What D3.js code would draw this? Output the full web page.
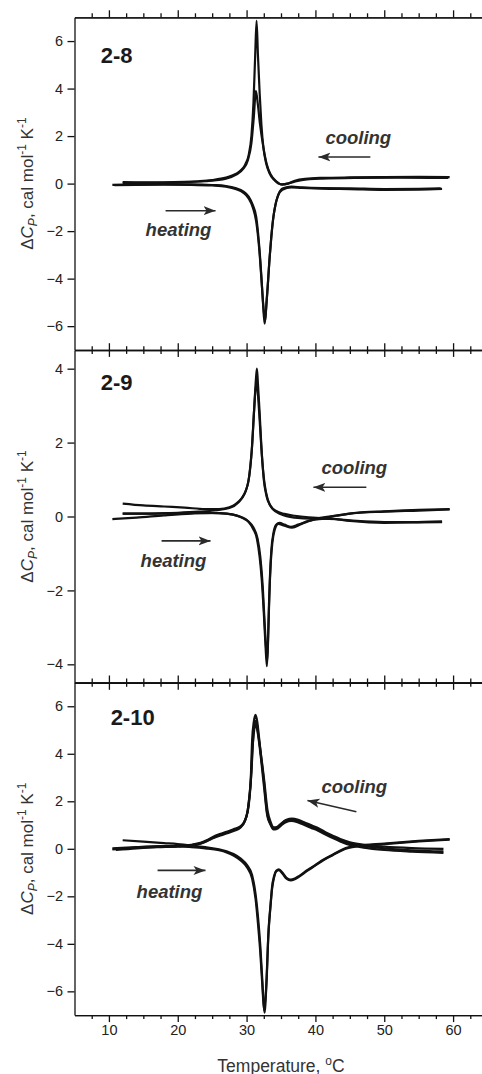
<!DOCTYPE html>
<html>
<head>
<meta charset="utf-8">
<script src="https://cdn.jsdelivr.net/npm/d3@7.9.0/dist/d3.min.js"></script>
<style>
  body { margin: 0; background: #fff; }
  svg { display: block; font-family: 'Liberation Sans', Arial, sans-serif; }
</style>
</head>
<body>
<div id="chart"></div>
<script>
const panelNames = ['2-8', '2-9', '2-10'];
const yDomains = [[-7, 7], [-4.5, 4.5], [-7, 7]];
const yTicks = [[-6, -4, -2, 0, 2, 4, 6], [-4, -2, 0, 2, 4], [-6, -4, -2, 0, 2, 4, 6]];
const xMajor = [10, 20, 30, 40, 50, 60];
const xMinor = [7.5, 12.5, 15, 17.5, 22.5, 25, 27.5, 32.5, 35, 37.5, 42.5, 45, 47.5, 52.5, 55, 57.5, 62.5];

// panel 2-8
const p1Cool1 = [[12.0,0.06],[15,0.05],[18,0.05],[21,0.07],[23,0.1],[25,0.15],[27,0.25],[28,0.35],[29,0.52],[29.8,0.8],[30.3,1.2],[30.7,2.0],[31.0,3.4],[31.25,5.4],[31.45,6.85],[31.65,5.4],[31.9,3.8],[32.15,2.5],[32.45,1.5],[32.85,0.85],[33.3,0.45],[34,0.16],[35,-0.03],[36,0.0],[37,0.12],[38.5,0.2],[41,0.24],[45,0.26],[50,0.27],[55,0.28],[59.5,0.27]];
const p1Cool2 = [[12,0.03],[16,0.03],[20,0.05],[24,0.1],[27,0.21],[28.5,0.38],[29.5,0.62],[30.2,1.0],[30.7,1.7],[31.05,2.8],[31.35,3.9],[31.65,3.3],[31.95,2.5],[32.4,1.6],[32.9,0.85],[33.5,0.38],[34.3,0.1],[35.2,-0.04],[36.5,0.04],[38,0.15],[41,0.21],[46,0.24],[52,0.25],[59.3,0.24]];
const p1Heat1 = [[10.5,-0.05],[14,-0.03],[18,-0.02],[22,-0.03],[25,-0.06],[27,-0.1],[28.5,-0.2],[29.5,-0.33],[30.3,-0.55],[30.9,-0.9],[31.4,-1.4],[31.8,-2.5],[32.15,-3.9],[32.4,-5.1],[32.62,-5.9],[32.85,-5.2],[33.05,-4.4],[33.3,-3.3],[33.55,-2.4],[33.85,-1.5],[34.15,-0.95],[34.55,-0.52],[35.2,-0.26],[36.5,-0.16],[38,-0.18],[41,-0.21],[45,-0.23],[50,-0.26],[55,-0.25],[58.4,-0.22]];
const p1Heat2 = [[10.8,-0.07],[14,-0.05],[18,-0.04],[22,-0.05],[25,-0.08],[27,-0.13],[28.5,-0.24],[29.5,-0.38],[30.3,-0.62],[30.9,-1.0],[31.4,-1.6],[31.85,-2.8],[32.2,-4.2],[32.45,-5.2],[32.68,-5.8],[32.9,-5.0],[33.1,-4.2],[33.35,-3.1],[33.6,-2.2],[33.9,-1.4],[34.25,-0.82],[34.65,-0.44],[35.3,-0.2],[36.5,-0.13],[38,-0.16],[41,-0.19],[45,-0.2],[50,-0.23],[55,-0.22],[58.2,-0.2]];

// panel 2-9
const p2Cool1 = [[12,0.35],[15,0.3],[18,0.27],[21,0.24],[24,0.2],[26,0.2],[27.5,0.25],[28.5,0.35],[29.3,0.5],[29.9,0.7],[30.4,1.1],[30.8,1.9],[31.1,2.9],[31.35,3.7],[31.5,4.0],[31.65,3.6],[31.9,2.8],[32.15,1.9],[32.5,1.0],[32.9,0.55],[33.5,0.28],[34.3,0.15],[35.5,0.07],[37,0.02],[39,-0.02],[41,-0.04],[43,0.02],[46,0.1],[50,0.14],[55,0.18],[59.5,0.2]];
const p2Cool2 = [[12,0.08],[16,0.08],[20,0.1],[23,0.13],[25.5,0.17],[27.5,0.23],[28.8,0.38],[29.7,0.62],[30.3,1.0],[30.75,1.8],[31.1,2.9],[31.4,3.6],[31.6,3.4],[31.9,2.6],[32.2,1.7],[32.6,0.9],[33.1,0.45],[33.8,0.2],[35,0.06],[37,-0.03],[39.5,-0.06],[42,0.0],[45,0.08],[50,0.13],[55,0.16],[59.5,0.19]];
const p2Heat1 = [[10.5,-0.07],[14,-0.03],[18,0.03],[22,0.08],[25,0.1],[27,0.08],[28.5,0.03],[29.5,-0.05],[30.3,-0.15],[31,-0.35],[31.5,-0.6],[31.9,-1.1],[32.2,-1.7],[32.5,-2.6],[32.75,-3.5],[32.95,-4.05],[33.1,-3.4],[33.25,-2.4],[33.4,-1.6],[33.6,-0.9],[33.9,-0.45],[34.3,-0.22],[34.8,-0.17],[35.5,-0.22],[36.4,-0.28],[37.5,-0.22],[39,-0.12],[41,-0.06],[43,-0.07],[46,-0.12],[50,-0.15],[54,-0.15],[58.4,-0.13]];
const p2Heat2 = [[12,0.08],[15,0.08],[19,0.09],[23,0.1],[26,0.09],[28,0.05],[29.3,-0.02],[30.2,-0.12],[31,-0.3],[31.6,-0.6],[32,-1.1],[32.35,-1.9],[32.6,-2.8],[32.85,-3.6],[33.0,-3.9],[33.15,-3.2],[33.3,-2.2],[33.5,-1.3],[33.75,-0.7],[34.1,-0.35],[34.6,-0.2],[35.5,-0.25],[36.6,-0.3],[38,-0.2],[40,-0.08],[42,-0.06],[45,-0.12],[50,-0.17],[55,-0.16],[58.4,-0.15]];

// panel 2-10
const p3Cool1 = [[10.5,-0.03],[14,0.05],[17,0.1],[20,0.12],[22,0.17],[23.3,0.25],[24.2,0.36],[25.1,0.5],[26.1,0.62],[27.1,0.72],[28.1,0.82],[29.1,0.94],[29.7,1.15],[30.1,1.5],[30.4,2.2],[30.6,2.9],[30.81,4.6],[31.05,5.35],[31.3,5.64],[31.55,5.35],[31.77,4.8],[32.1,3.9],[32.5,2.9],[32.99,1.5],[33.47,1.05],[33.9,0.87],[34.4,0.9],[35,1.04],[35.7,1.19],[36.5,1.23],[37.4,1.18],[38.4,1.05],[39.4,0.94],[40.4,0.82],[41.5,0.64],[42.5,0.5],[43.5,0.37],[45,0.22],[47,0.12],[50,0.02],[54,-0.06],[58.6,-0.11]];
const p3Cool2 = [[10.8,0.0],[14,0.04],[17,0.08],[20,0.11],[22,0.16],[23.3,0.23],[24.2,0.33],[25.1,0.46],[26.1,0.58],[27.1,0.68],[28.1,0.78],[29.1,0.9],[29.8,1.2],[30.15,1.6],[30.6,2.8],[30.85,4.2],[31.1,5.0],[31.3,5.25],[31.55,5.0],[31.85,4.4],[32.5,2.7],[33.0,1.4],[33.5,1.0],[33.9,0.82],[34.4,0.84],[35,0.98],[35.7,1.12],[36.5,1.17],[37.4,1.12],[38.4,1.0],[39.4,0.88],[40.4,0.76],[41.6,0.58],[42.6,0.44],[43.6,0.31],[45,0.16],[47,0.05],[50,-0.05],[54,-0.12],[58.6,-0.17]];
const p3Cool3 = [[11,-0.05],[14,0.02],[17,0.07],[20,0.1],[22,0.15],[23.3,0.22],[24.3,0.33],[25.2,0.45],[26.2,0.56],[27.2,0.66],[28.2,0.76],[29.1,0.9],[29.9,1.3],[30.3,1.8],[30.7,3.2],[30.95,4.6],[31.2,5.4],[31.45,5.3],[31.75,4.7],[32.55,2.9],[33.05,1.6],[33.5,1.12],[33.95,0.9],[34.5,0.93],[35.1,1.08],[35.8,1.22],[36.6,1.27],[37.5,1.22],[38.5,1.1],[39.5,0.98],[40.5,0.86],[41.6,0.68],[42.6,0.54],[43.6,0.41],[45,0.27],[47,0.17],[50,0.09],[54,0.03],[58.6,0.0]];
const p3Heat1 = [[12,0.36],[15,0.3],[18,0.24],[20,0.2],[22,0.14],[24,0.07],[26,-0.02],[27.1,-0.1],[28.1,-0.22],[29.1,-0.4],[30.1,-0.7],[30.8,-1.1],[31.3,-1.9],[31.7,-3.0],[32.0,-4.1],[32.3,-5.6],[32.6,-6.9],[32.9,-5.6],[33.2,-3.4],[33.5,-2.3],[33.7,-1.6],[34.0,-1.15],[34.3,-0.92],[34.7,-0.86],[35.2,-1.0],[35.8,-1.22],[36.4,-1.3],[37.0,-1.25],[37.6,-1.15],[38.8,-0.9],[40,-0.68],[41.2,-0.45],[42.5,-0.25],[44.4,0.03],[46,0.12],[50,0.22],[55,0.33],[59.5,0.41]];
const p3Heat2 = [[10.5,0.02],[14,0.07],[17,0.1],[20,0.1],[22,0.07],[24,0.02],[26,-0.06],[27.1,-0.15],[28.1,-0.28],[29.1,-0.48],[30.1,-0.8],[30.8,-1.25],[31.3,-2.1],[31.7,-3.3],[32.0,-4.4],[32.3,-5.8],[32.55,-6.8],[32.85,-5.8],[33.15,-3.7],[33.45,-2.5],[33.7,-1.7],[34.0,-1.2],[34.3,-0.96],[34.7,-0.9],[35.2,-1.04],[35.8,-1.26],[36.4,-1.33],[37.0,-1.28],[37.6,-1.18],[38.8,-0.93],[40,-0.7],[41.2,-0.47],[42.5,-0.27],[44.4,0.0],[46,0.1],[50,0.2],[55,0.31],[59.5,0.39]];

const panelSeries = [
    [p1Cool1, p1Cool2, p1Heat1, p1Heat2],
    [p2Cool1, p2Cool2, p2Heat1, p2Heat2],
    [p3Cool1, p3Cool2, p3Cool3, p3Heat1, p3Heat2],
];

// annotations, in data units (T, dCp)
const nameAt = [[8.8, 5.08], [8.8, 3.42], [10.25, 5.22]];
const coolAt = [[41.45, 1.67], [40.87, 1.15], [40.87, 2.36]];
const heatAt = [[15.33, -2.2], [14.6, -1.37], [14.02, -2.06]];
const coolArrow = [[[47.98, 1.12], [40.44, 1.12]], [[47.4, 0.79], [39.71, 0.79]], [[45.95, 1.56], [38.84, 2.03]]];
const heatArrow = [[[18.23, -1.14], [25.49, -1.14]], [[17.65, -0.66], [24.76, -0.66]], [[17.07, -0.91], [24.03, -0.91]]];

const width = 482, height = 1074;
const panelTop = [17.3, 350.2, 682.5];
const panelH = 332.6;
const ink = '#111';

const svg = d3.select('#chart').append('svg')
    .attr('width', width)
    .attr('height', height);

svg.append('defs').append('marker')
    .attr('id', 'head')
    .attr('markerUnits', 'userSpaceOnUse')
    .attr('markerWidth', 13).attr('markerHeight', 10)
    .attr('refX', 12).attr('refY', 5)
    .attr('orient', 'auto')
    .append('path')
    .attr('d', 'M0,0.5 L12,5 L0,9.5 L3,5 Z')
    .attr('fill', '#2a2a2a');

const x = d3.scaleLinear().domain([5, 65]).range([74.5, 487.5]);

function styleAxis(g) {
    g.selectAll('path, line').attr('stroke', ink).attr('stroke-width', 1.3);
    g.selectAll('text')
        .attr('fill', '#222')
        .attr('font-size', 14.5)
        .attr('font-family', "'Liberation Sans', Arial, sans-serif");
}

panelSeries.forEach((series, i) => {
    const top = panelTop[i], bottom = top + panelH;
    const y = d3.scaleLinear().domain(yDomains[i]).range([bottom, top]);
    const g = svg.append('g');

    g.append('clipPath').attr('id', 'clip' + i)
        .append('rect')
        .attr('x', x(5)).attr('y', top)
        .attr('width', width - x(5)).attr('height', panelH);

    const line = d3.line()
        .x(d => x(d[0]))
        .y(d => y(d[1]))
        .curve(d3.curveMonotoneX);

    g.append('g').attr('clip-path', `url(#clip${i})`)
        .selectAll('path')
        .data(series)
        .join('path')
        .attr('d', line)
        .attr('fill', 'none')
        .attr('stroke', ink)
        .attr('stroke-width', 2.2)
        .attr('stroke-linejoin', 'round');

    // top & bottom frame with major/minor ticks
    g.append('g').attr('transform', `translate(0,${top})`)
        .call(d3.axisTop(x).tickValues(xMajor).tickSize(7).tickSizeOuter(0).tickFormat(''))
        .call(styleAxis);
    g.append('g').attr('transform', `translate(0,${top})`)
        .call(d3.axisTop(x).tickValues(xMinor).tickSize(4).tickSizeOuter(0).tickFormat(''))
        .call(styleAxis);
    g.append('g').attr('transform', `translate(0,${bottom})`)
        .call(d3.axisBottom(x).tickValues(xMajor).tickSize(7).tickSizeOuter(0).tickPadding(3)
            .tickFormat(i === 2 ? d3.format('d') : ''))
        .call(styleAxis);
    g.append('g').attr('transform', `translate(0,${bottom})`)
        .call(d3.axisBottom(x).tickValues(xMinor).tickSize(4).tickSizeOuter(0).tickFormat(''))
        .call(styleAxis);

    g.append('g').attr('transform', `translate(${x(5)},0)`)
        .call(d3.axisLeft(y).tickValues(yTicks[i]).tickSize(7).tickSizeOuter(0).tickPadding(4.5))
        .call(styleAxis);

    // y title
    const yt = g.append('text')
        .attr('transform', `translate(33,${(top + bottom) / 2}) rotate(-90)`)
        .attr('text-anchor', 'middle')
        .attr('font-size', 17)
        .attr('fill', '#333');
    yt.append('tspan').text('Δ');
    yt.append('tspan').attr('font-style', 'italic').text('C');
    yt.append('tspan').attr('font-style', 'italic').attr('font-size', 12).attr('dy', 4).text('P');
    yt.append('tspan').attr('dy', -4).text(', cal mol');
    yt.append('tspan').attr('font-size', 12).attr('dy', -7).text('-1');
    yt.append('tspan').attr('dy', 7).text(' K');
    yt.append('tspan').attr('font-size', 12).attr('dy', -7).text('-1');

    // panel label
    g.append('text')
        .attr('x', x(nameAt[i][0])).attr('y', y(nameAt[i][1]))
        .attr('font-size', 22).attr('font-weight', 'bold')
        .attr('fill', '#1a1a1a')
        .text(panelNames[i]);

    // cooling / heating notes
    g.append('text')
        .attr('x', x(coolAt[i][0])).attr('y', y(coolAt[i][1]))
        .attr('font-size', 18.5).attr('font-weight', 'bold').attr('font-style', 'italic')
        .attr('fill', '#333')
        .text('cooling');
    g.append('text')
        .attr('x', x(heatAt[i][0])).attr('y', y(heatAt[i][1]))
        .attr('font-size', 18.5).attr('font-weight', 'bold').attr('font-style', 'italic')
        .attr('fill', '#333')
        .text('heating');

    [coolArrow[i], heatArrow[i]].forEach(a => {
        g.append('line')
            .attr('x1', x(a[0][0])).attr('y1', y(a[0][1]))
            .attr('x2', x(a[1][0])).attr('y2', y(a[1][1]))
            .attr('stroke', '#2a2a2a')
            .attr('stroke-width', 1.6)
            .attr('marker-end', 'url(#head)');
    });
});

// x title
const xt = svg.append('text')
    .attr('x', (x(5) + x(65)) / 2)
    .attr('y', 1071.5)
    .attr('text-anchor', 'middle')
    .attr('font-size', 17.5)
    .attr('fill', '#333');
xt.append('tspan').text('Temperature, ');
xt.append('tspan').attr('font-size', 12).attr('dy', -7).text('o');
xt.append('tspan').attr('dy', 7).text('C');
</script>
</body>
</html>
